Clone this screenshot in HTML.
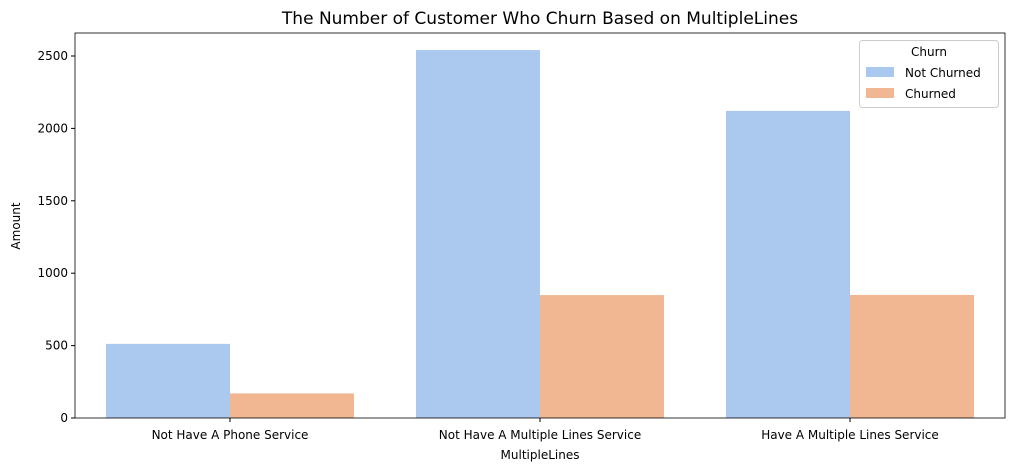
<!DOCTYPE html>
<html><head><meta charset="utf-8"><style>
body{margin:0;background:#fff;font-family:"Liberation Sans","DejaVu Sans",sans-serif;}
</style></head><body>
<svg id="chart" width="1014" height="471" xmlns="http://www.w3.org/2000/svg" font-family="DejaVu Sans, Liberation Sans, sans-serif">
<text x="540" y="24" text-anchor="middle" font-size="17" fill="#000">The Number of Customer Who Churn Based on MultipleLines</text>
<g id="bars"></g>
<g id="yticks"></g>
<g id="xticks"></g>
<rect x="75" y="33" width="930" height="385" fill="none" stroke="#000" stroke-width="0.8"/>
<text x="540" y="459" text-anchor="middle" font-size="12">MultipleLines</text>
<text x="20" y="226" text-anchor="middle" font-size="12" transform="rotate(-90 20 226)">Amount</text>
<g>
<rect x="859.5" y="40.5" width="139" height="67" rx="3" fill="#fff" fill-opacity="0.8" stroke="#ccc"/>
<text x="929" y="56" text-anchor="middle" font-size="12">Churn</text>
<rect x="866" y="67" width="28" height="10" fill="#abc9ee"/>
<text x="905" y="77" font-size="12">Not Churned</text>
<rect x="866" y="88" width="28" height="10" fill="#f0b792"/>
<text x="905" y="98" font-size="12">Churned</text>
</g>
</svg>
<script>
const categories=["Not Have A Phone Service","Not Have A Multiple Lines Service","Have A Multiple Lines Service"];
const notChurned=[512,2541,2121];
const churned=[170,849,850];
const yTicks=[0,500,1000,1500,2000,2500];
const NS="http://www.w3.org/2000/svg";
const L=75,R=1005,B=418,T=33;
const y=v=>B-v*(362/2500);
const band=(R-L)/categories.length;
const xc=i=>L+band*(i+0.5);
const bw=band*0.4;
function mk(t,a,p){const e=document.createElementNS(NS,t);for(const k in a)e.setAttribute(k,a[k]);p.appendChild(e);return e;}
const bars=document.getElementById('bars');
categories.forEach((c,i)=>{
 const a=mk('rect',{x:xc(i)-bw,y:y(notChurned[i]),width:bw,height:B-y(notChurned[i]),fill:'#abc9ee'},bars);
 
 
 const b=mk('rect',{x:xc(i),y:y(churned[i]),width:bw,height:B-y(churned[i]),fill:'#f0b792'},bars);
 
 
});
const yt=document.getElementById('yticks');
yTicks.forEach(v=>{
 mk('line',{x1:L-4,x2:L,y1:y(v),y2:y(v),stroke:'#000'},yt);
 const t=mk('text',{x:L-7,y:y(v)+4,'text-anchor':'end','font-size':12},yt);
 t.textContent=v;
 
 
});
const xt=document.getElementById('xticks');
categories.forEach((c,i)=>{
 mk('line',{x1:xc(i),x2:xc(i),y1:B,y2:B+4,stroke:'#000'},xt);
 const t=mk('text',{x:xc(i),y:B+21,'text-anchor':'middle','font-size':12},xt);
 t.textContent=c;
 
 
});
</script>
</body></html>
